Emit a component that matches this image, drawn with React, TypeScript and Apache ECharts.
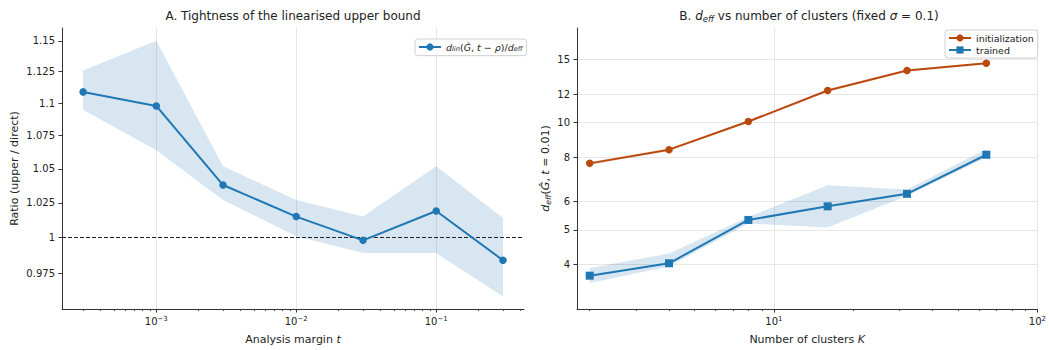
import React, { useEffect, useRef } from 'react';
import * as echarts from 'echarts';

// ---------- data ----------
const marginT = [3e-4, 1e-3, 3e-3, 1e-2, 3e-2, 1e-1, 3e-1];
const ratioMean = [1.109, 1.098, 1.038, 1.015, 0.998, 1.019, 0.984];
const ratioLo = [1.095, 1.064, 1.027, 1.001, 0.989, 0.989, 0.959];
const ratioHi = [1.126, 1.15, 1.052, 1.027, 1.015, 1.052, 1.014];

const clusters = [2, 4, 8, 16, 32, 64];
const initMean = [7.68, 8.39, 10.06, 12.29, 13.99, 14.65];
const initLo = [7.6, 8.32, 9.98, 12.2, 13.9, 14.56];
const initHi = [7.76, 8.46, 10.14, 12.38, 14.08, 14.74];
const trainedMean = [3.72, 4.03, 5.33, 5.82, 6.31, 8.12];
const trainedLo = [3.55, 3.95, 5.21, 5.08, 6.23, 7.97];
const trainedHi = [3.91, 4.29, 5.43, 6.67, 6.49, 8.41];

const leftYTicks = [0.975, 1, 1.025, 1.05, 1.075, 1.1, 1.125, 1.15];
const leftXMajor = [1e-3, 1e-2, 1e-1];
const rightYTicks = [4, 5, 6, 8, 10, 12, 15];
const rightXMajor = [10, 100];

const leftXRange = [2.12e-4, 0.424];
const leftYRange = [0.9505, 1.1605];
const rightXRange = [1.79, 100];
const rightYRange = [3.0, 18.4];

// ---------- style ----------
const FONT = 'DejaVu Sans';
const BLUE = '#1f77b4';
const ORANGE = '#b9490f';
const BAND = 'rgba(31,119,180,0.18)';
const BAND_O = 'rgba(185,73,15,0.15)';
const AX = '#333';
const TXT = '#222';
const GRIDC = '#e6e6e6';

const lg = Math.log10;

function minorTicks(lo: number, hi: number) {
  const out: number[] = [];
  for (let e = Math.floor(lg(lo)); e <= Math.ceil(lg(hi)); e++) {
    for (let k = 2; k <= 9; k++) {
      const v = k * Math.pow(10, e);
      if (v >= lo && v <= hi) out.push(lg(v));
    }
  }
  return out;
}

const rich = (size: number) => ({
  n: { fontFamily: FONT, fontSize: size, color: TXT },
  i: { fontFamily: FONT, fontSize: size, color: TXT, fontStyle: 'italic' },
  s: { fontFamily: FONT, fontSize: size * 0.7, color: TXT, fontStyle: 'italic', verticalAlign: 'bottom', padding: [size * 0.45, 0, 0, 0] },
});

const supRich = {
  b: { fontFamily: FONT, fontSize: 10, color: TXT },
  p: { fontFamily: FONT, fontSize: 7, color: TXT, verticalAlign: 'top', padding: [0, 0, 5, 0] },
};
const pow10Label = (v: number) => {
  const e = Math.round(v);
  return '{b|10}{p|' + (e < 0 ? '−' + -e : String(e)) + '}';
};

function xMajor(grid: number, range: number[], major: number[], name: string) {
  const vals = major.map(lg);
  return {
    type: 'value', gridIndex: grid, position: 'bottom',
    min: lg(range[0]), max: lg(range[1]),
    axisLine: { show: true, onZero: false, lineStyle: { color: AX, width: 1 } },
    axisTick: { show: true, customValues: vals, length: 3.5, lineStyle: { color: AX, width: 1 } },
    axisLabel: { customValues: vals, formatter: (v: number) => pow10Label(v), fontFamily: FONT, fontSize: 10, color: TXT, margin: 6, rich: supRich },
    splitLine: { show: true, lineStyle: { color: GRIDC, width: 1 } },
    name, nameLocation: 'middle', nameGap: 25,
    nameTextStyle: { fontFamily: FONT, fontSize: 11, color: TXT, rich: rich(11) },
  };
}
function xMinor(grid: number, range: number[]) {
  return {
    type: 'value', gridIndex: grid, position: 'bottom',
    min: lg(range[0]), max: lg(range[1]),
    axisLine: { show: false, onZero: false },
    axisTick: { show: true, customValues: minorTicks(range[0], range[1]), length: 2, lineStyle: { color: AX, width: 0.8 } },
    axisLabel: { show: false },
    splitLine: { show: false },
  };
}

function bandSeries(xi: number, yi: number, xs: number[], lo: number[], hi: number[], color: string) {
  return {
    type: 'custom', coordinateSystem: 'cartesian2d', xAxisIndex: xi, yAxisIndex: yi, silent: true, z: 1,
    data: xs.map((x, i) => [lg(x), lg(lo[i]), lg(hi[i])]),
    encode: { x: 0, y: [1, 2] },
    renderItem: (params: any, api: any) => {
      if (params.dataIndex !== 0) return null;
      const top = xs.map((x, i) => api.coord([lg(x), lg(hi[i])]));
      const bot = xs.map((x, i) => api.coord([lg(x), lg(lo[i])])).reverse();
      return { type: 'polygon', shape: { points: [...top, ...bot] }, style: { fill: color } };
    },
  };
}

export default function App() {
  const ref = useRef<HTMLDivElement>(null);
  useEffect(() => {
    if (!ref.current) return;
    const chart = echarts.init(ref.current, undefined, { renderer: 'svg' });

    const legendBase = {
      backgroundColor: 'rgba(255,255,255,0.85)', borderColor: '#d0d0d0', borderWidth: 1, borderRadius: 3,
      itemWidth: 22, itemHeight: 9, itemGap: 2, selectedMode: false, padding: [3, 4, 3, 3],
      textStyle: { fontFamily: FONT, fontSize: 9.5, color: TXT, rich: rich(9.5) },
    };

    chart.setOption({
      animation: false,
      backgroundColor: '#fff',
      grid: [
        { left: 62, top: 28, width: 462, height: 288 },
        { left: 577, top: 28, width: 463, height: 288 },
      ],
      graphic: [
        { type: 'text', x: 293, y: 16, style: { text: 'A. Tightness of the linearised upper bound', fontFamily: FONT, fontSize: 12, fill: TXT, align: 'center', verticalAlign: 'middle' } },
        {
          type: 'text', x: 809, y: 16,
          style: {
            text: '{n|B. }{i|d}{s|eff}{n| vs number of clusters (fixed }{i|σ}{n| = 0.1)}',
            fontFamily: FONT, fontSize: 12, fill: TXT, align: 'center', verticalAlign: 'middle', rich: rich(12),
          },
        },
      ],
      legend: [
        {
          ...legendBase, left: 415, top: 39, data: ['ratio'],
          formatter: () => '{i|d}{s|lin}{n|(}{i|Ĝ}{n|, }{i|t}{n| − }{i|ρ}{n|)/}{i|d}{s|eff}',
        },
        { ...legendBase, left: 945, top: 30, orient: 'vertical', data: ['initialization', 'trained'] },
      ],
      xAxis: [
        xMajor(0, leftXRange, leftXMajor, '{n|Analysis margin }{i|t}'),
        xMinor(0, leftXRange),
        xMajor(1, rightXRange, rightXMajor, '{n|Number of clusters }{i|K}'),
        xMinor(1, rightXRange),
      ],
      yAxis: [
        {
          type: 'value', gridIndex: 0, min: lg(leftYRange[0]), max: lg(leftYRange[1]),
          axisLine: { show: true, onZero: false, lineStyle: { color: AX, width: 1 } },
          axisTick: { show: true, customValues: leftYTicks.map(lg), length: 3.5, lineStyle: { color: AX } },
          axisLabel: {
            customValues: leftYTicks.map(lg), fontFamily: FONT, fontSize: 10, color: TXT, margin: 7,
            formatter: (v: number) => String(parseFloat(Math.pow(10, v).toFixed(3))),
          },
          splitLine: { show: false },
          name: 'Ratio (upper / direct)', nameLocation: 'middle', nameGap: 42, nameRotate: 90,
          nameTextStyle: { fontFamily: FONT, fontSize: 11, color: TXT },
        },
        {
          type: 'value', gridIndex: 1, min: lg(rightYRange[0]), max: lg(rightYRange[1]),
          axisLine: { show: true, onZero: false, lineStyle: { color: AX, width: 1 } },
          axisTick: { show: true, customValues: rightYTicks.map(lg), length: 3.5, lineStyle: { color: AX } },
          axisLabel: {
            customValues: rightYTicks.map(lg), fontFamily: FONT, fontSize: 10, color: TXT, margin: 7,
            formatter: (v: number) => String(Math.round(Math.pow(10, v))),
          },
          splitLine: { show: true, lineStyle: { color: GRIDC, width: 1 } },
          name: '{i|d}{s|eff}{n|(}{i|Ĝ}{n|, }{i|t}{n| = 0.01)}', nameLocation: 'middle', nameGap: 25, nameRotate: 90,
          nameTextStyle: { fontFamily: FONT, fontSize: 11, color: TXT, rich: rich(11) },
        },
      ],
      series: [
        bandSeries(0, 0, marginT, ratioLo, ratioHi, BAND),
        {
          name: 'ratio', type: 'line', xAxisIndex: 0, yAxisIndex: 0,
          data: marginT.map((t, i) => [lg(t), lg(ratioMean[i])]),
          symbol: 'circle', symbolSize: 7.5, itemStyle: { color: BLUE }, lineStyle: { color: BLUE, width: 2 }, z: 3,
          markLine: {
            silent: true, symbol: ['none', 'none'], label: { show: false }, z: 2,
            lineStyle: { type: [4, 2], color: '#222', width: 1 },
            data: [{ yAxis: 0 }],
          },
        },
        bandSeries(2, 1, clusters, trainedLo, trainedHi, BAND),
        bandSeries(2, 1, clusters, initLo, initHi, BAND_O),
        {
          name: 'initialization', type: 'line', xAxisIndex: 2, yAxisIndex: 1,
          data: clusters.map((k, i) => [lg(k), lg(initMean[i])]),
          symbol: 'circle', symbolSize: 7.5, itemStyle: { color: ORANGE }, lineStyle: { color: ORANGE, width: 2 }, z: 3,
        },
        {
          name: 'trained', type: 'line', xAxisIndex: 2, yAxisIndex: 1,
          data: clusters.map((k, i) => [lg(k), lg(trainedMean[i])]),
          symbol: 'rect', symbolSize: 8, itemStyle: { color: BLUE }, lineStyle: { color: BLUE, width: 2 }, z: 3,
        },
      ],
    });
    return () => chart.dispose();
  }, []);
  return <div ref={ref} style={{ position: 'fixed', left: 0, top: 0, width: 1049, height: 350 }} />;
}
